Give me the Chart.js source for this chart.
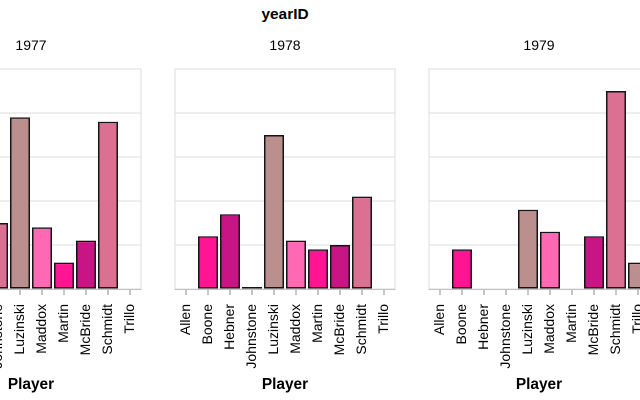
<!DOCTYPE html>
<html>
<head>
<meta charset="utf-8">
<script src="https://cdn.jsdelivr.net/npm/chart.js@4"></script>
<style>
  html, body { margin: 0; padding: 0; background: #fff; }
  #wrap { position: relative; width: 640px; height: 400px; overflow: hidden; background: #fff; }
  .panel { position: absolute; top: 0; width: 260px; height: 400px; }
  .panel canvas { display: block; width: 260px; height: 400px; }
  #mainTitle { position: absolute; top: 4px; left: 185px; width: 200px; text-align: center;
    font: bold 15.4px "Liberation Sans", Arial, sans-serif; color: #000; line-height: 20px; }
</style>
</head>
<body>
<div id="wrap">
  <div id="mainTitle">yearID</div>
  <div class="panel" style="left:-99px"><canvas id="c1977" width="260" height="400"></canvas></div>
  <div class="panel" style="left:155px"><canvas id="c1978" width="260" height="400"></canvas></div>
  <div class="panel" style="left:409px"><canvas id="c1979" width="260" height="400"></canvas></div>
</div>
<script>
// ---- data ----
const players = ['Allen', 'Boone', 'Hebner', 'Johnstone', 'Luzinski', 'Maddox', 'Martin', 'McBride', 'Schmidt', 'Trillo'];
const years = ['1977', '1978', '1979'];
const hr1977 = [null, 11, 18, 15, 39, 14, 6, 11, 38, null];
const hr1978 = [null, 12, 17, 0, 35, 11, 9, 10, 21, null];
const hr1979 = [null, 9, null, null, 18, 13, null, 12, 45, 6];
const yTicks = [0, 10, 20, 30, 40, 50];
const playerColors = ['#ff69b4', '#ff1493', '#c71585', '#db7093', '#bc8f8f',
                      '#ff69b4', '#ff1493', '#c71585', '#db7093', '#bc8f8f'];

const FONT = '"Liberation Sans", Arial, sans-serif';

const plotBorder = {
  id: 'plotBorder',
  beforeDatasetsDraw(chart) {
    const a = chart.chartArea, ctx = chart.ctx;
    ctx.save();
    ctx.strokeStyle = '#dddddd';
    ctx.lineWidth = 1;
    ctx.strokeRect(a.left, a.top, a.right - a.left, a.bottom - a.top);
    ctx.restore();
  }
};

function makeChart(id, year, values) {
  return new Chart(document.getElementById(id), {
    type: 'bar',
    data: {
      labels: players,
      datasets: [{
        data: values,
        backgroundColor: playerColors,
        borderColor: '#141414',
        borderWidth: 1.5,
        borderSkipped: false,
        minBarLength: 2,
        barPercentage: 0.91,
        categoryPercentage: 1
      }]
    },
    options: {
      responsive: false,
      animation: false,
      devicePixelRatio: 2,
      layout: { padding: { left: 20, right: 20, top: 0, bottom: 0 } },
      plugins: {
        legend: { display: false },
        tooltip: { enabled: false },
        title: {
          display: true,
          text: year,
          color: '#000',
          font: { family: FONT, size: 14, weight: 'normal' },
          padding: { top: 37.6, bottom: 14.6 }
        }
      },
      scales: {
        x: {
          offset: true,
          grid: { display: true, offset: false, drawOnChartArea: false, drawTicks: true, tickLength: 6, color: '#888888', lineWidth: 1 },
          border: { display: true, color: '#888888', width: 1.4 },
          ticks: {
            autoSkip: false, minRotation: 90, maxRotation: 90, padding: 9,
            color: '#000', font: { family: FONT, size: 14 }
          },
          title: {
            display: true, text: 'Player', color: '#000',
            font: { family: FONT, size: 15.4, weight: 'bold' },
            padding: { top: 0, bottom: 6 }
          },
          afterFit(scale) { scale.height = 111; }
        },
        y: {
          min: yTicks[0],
          max: yTicks[yTicks.length - 1],
          afterBuildTicks(scale) { scale.ticks = yTicks.map(v => ({ value: v })); },
          grid: { color: '#dddddd', lineWidth: 1, drawTicks: false },
          border: { display: false },
          ticks: { display: false },
          afterFit(scale) { scale.width = 0; }
        }
      }
    },
    plugins: [plotBorder]
  });
}

makeChart('c1977', years[0], hr1977);
makeChart('c1978', years[1], hr1978);
makeChart('c1979', years[2], hr1979);
</script>
</body>
</html>
